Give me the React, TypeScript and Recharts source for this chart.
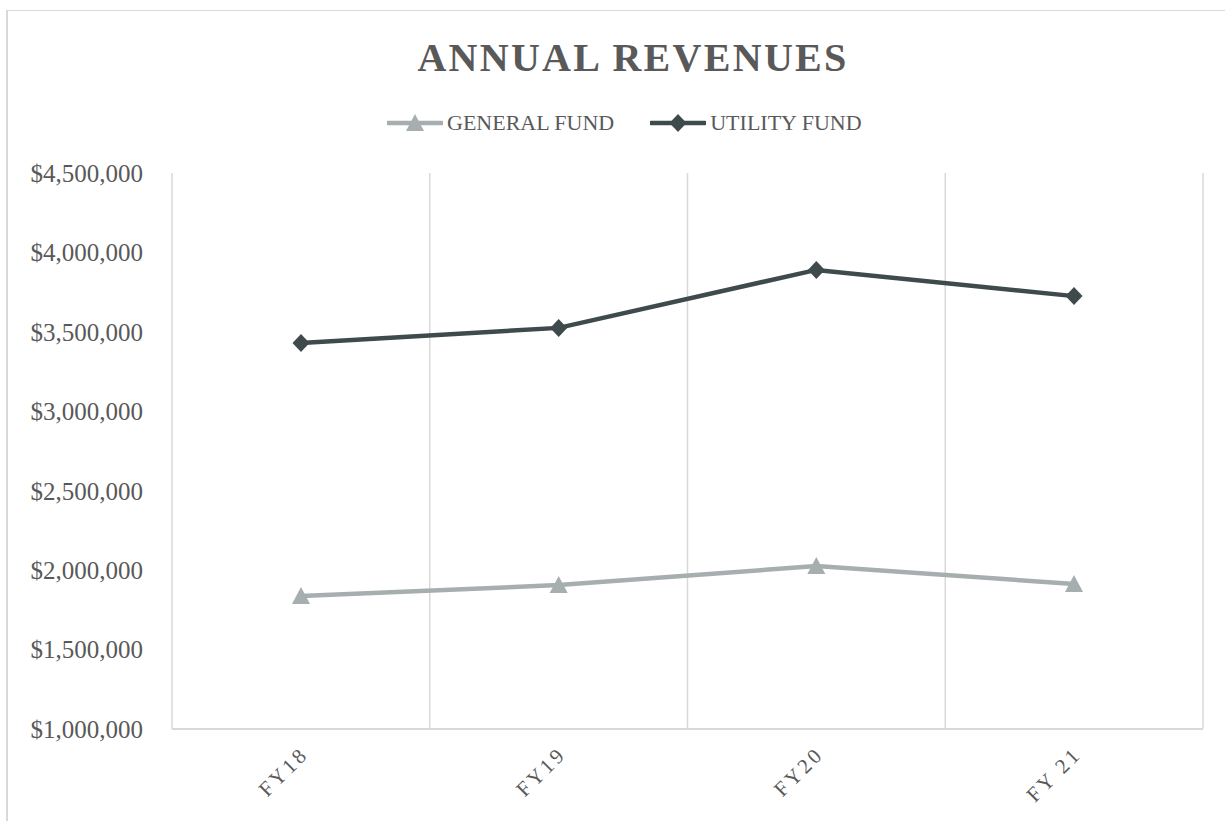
import React from "react";
import { CartesianGrid, Line, LineChart, XAxis, YAxis } from "recharts";

const years = ["FY18", "FY19", "FY20", "FY 21"];
const generalFund = [1837000, 1906000, 2026000, 1913000];
const utilityFund = [3430000, 3525000, 3890000, 3725000];
const yTicks = [1000000, 1500000, 2000000, 2500000, 3000000, 3500000, 4000000, 4500000];

const GENERAL_COLOR = "#a7aeaf";
const UTILITY_COLOR = "#3e4a4c";
const TEXT_COLOR = "#595959";
const GRID_COLOR = "#d9d9d9";
const FONT = "'Liberation Serif', serif";

const chartData = years.map((name, i) => ({
  name,
  general: generalFund[i],
  utility: utilityFund[i],
}));

const money = (v: number) => "$" + v.toLocaleString("en-US");

function Triangle({ cx, cy }: any) {
  if (cx == null || cy == null) return null;
  return <path d={`M${cx},${cy - 9} L${cx + 9},${cy + 8} L${cx - 9},${cy + 8} Z`} fill={GENERAL_COLOR} />;
}

function Diamond({ cx, cy }: any) {
  if (cx == null || cy == null) return null;
  return <path d={`M${cx},${cy - 9} L${cx + 8.5},${cy} L${cx},${cy + 9} L${cx - 8.5},${cy} Z`} fill={UTILITY_COLOR} />;
}

function LegendIcon({ color, kind }: { color: string; kind: "tri" | "dia" }) {
  return (
    <svg width={56} height={20} style={{ display: "block" }}>
      <line x1={1} y1={10} x2={55} y2={10} stroke={color} strokeWidth={4.5} strokeLinecap="round" />
      {kind === "tri" ? <Triangle cx={28} cy={10} /> : <Diamond cx={28} cy={10} />}
    </svg>
  );
}

export default function App() {
  return (
    <div style={{ position: "fixed", left: 0, top: 0, width: 1225, height: 821, overflow: "hidden", background: "#fff" }}>
      <div
        style={{
          position: "absolute",
          left: 6,
          top: 10,
          width: 1300,
          height: 900,
          borderLeft: `2px solid ${GRID_COLOR}`,
          borderTop: `1.5px solid ${GRID_COLOR}`,
        }}
      />
      <div
        style={{
          position: "absolute",
          left: 0,
          top: 38,
          width: 1266,
          textAlign: "center",
          fontFamily: FONT,
          fontWeight: 700,
          fontSize: 40,
          lineHeight: "40px",
          letterSpacing: 2.3,
          color: TEXT_COLOR,
        }}
      >
        ANNUAL REVENUES
      </div>
      <div
        style={{
          position: "absolute",
          left: 387,
          top: 112,
          display: "flex",
          alignItems: "center",
          fontFamily: FONT,
          fontSize: 22,
          lineHeight: "22px",
          color: TEXT_COLOR,
        }}
      >
        <LegendIcon color={GENERAL_COLOR} kind="tri" />
        <span style={{ marginLeft: 4 }}>GENERAL FUND</span>
        <span style={{ width: 36 }} />
        <LegendIcon color={UTILITY_COLOR} kind="dia" />
        <span style={{ marginLeft: 4 }}>UTILITY FUND</span>
      </div>
      <div style={{ position: "absolute", left: 0, top: 0 }}>
        <LineChart width={1225} height={821} data={chartData} margin={{ top: 173, right: 22, bottom: 0, left: 0 }}>
          <CartesianGrid
            horizontal={false}
            stroke={GRID_COLOR}
            strokeWidth={1.5}
            verticalCoordinatesGenerator={({ offset }: any) =>
              [0, 1, 2, 3, 4].map((i) => offset.left + (offset.width * i) / years.length)
            }
          />
          <XAxis
            dataKey="name"
            height={92}
            padding={{ left: 129, right: 129 }}
            axisLine={{ stroke: GRID_COLOR, strokeWidth: 2 }}
            tickLine={false}
            tickSize={0}
            tickMargin={16}
            angle={-45}
            textAnchor="end"
            interval={0}
            tick={{ fill: TEXT_COLOR, fontFamily: FONT, fontSize: 21, letterSpacing: 3, dx: -2 }}
          />
          <YAxis
            width={172}
            domain={[1000000, 4500000]}
            ticks={yTicks}
            tickFormatter={money}
            axisLine={false}
            tickLine={false}
            tickSize={0}
            tickMargin={29}
            tick={{ fill: TEXT_COLOR, fontFamily: FONT, fontSize: 25 }}
          />
          <Line
            dataKey="general"
            name="GENERAL FUND"
            stroke={GENERAL_COLOR}
            strokeWidth={4.5}
            dot={<Triangle />}
            activeDot={false}
            isAnimationActive={false}
          />
          <Line
            dataKey="utility"
            name="UTILITY FUND"
            stroke={UTILITY_COLOR}
            strokeWidth={4.5}
            dot={<Diamond />}
            activeDot={false}
            isAnimationActive={false}
          />
        </LineChart>
      </div>
    </div>
  );
}
